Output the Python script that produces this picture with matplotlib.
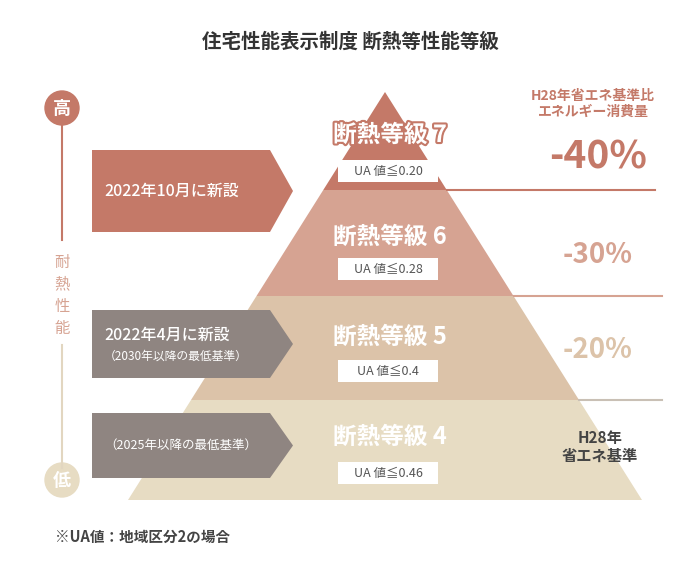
import matplotlib
matplotlib.use("Agg")
import matplotlib.pyplot as plt
from matplotlib.patches import Polygon, Circle, Rectangle
import matplotlib.patheffects as pe

plt.rcParams['font.family'] = ['Noto Sans CJK JP', 'DejaVu Sans']

title = "住宅性能表示制度 断熱等性能等級"
grades = ["断熱等級 7", "断熱等級 6", "断熱等級 5", "断熱等級 4"]
ua_values = ["UA 値≦0.20", "UA 値≦0.28", "UA 値≦0.4", "UA 値≦0.46"]
reductions = ["-40%", "-30%", "-20%", ""]
arrow_labels = [("2022年10月に新設", ""), ("2022年4月に新設", "（2030年以降の最低基準）"), ("", "（2025年以降の最低基準）")]

band_colors = ["#c47968", "#d6a392", "#dcc3a9", "#e7dcc3"]
band_edges = [92, 190, 296, 400, 500]
apex_x, half_base = 385, 257

fig = plt.figure(figsize=(7, 5.75), dpi=100)
ax = fig.add_axes([0, 0, 1, 1])
ax.set_xlim(0, 700); ax.set_ylim(575, 0); ax.axis('off')

ax.text(350, 42, title, ha='center', va='center', fontsize=14, fontweight='bold', color='#333333')

def hw(y):
    return (y - band_edges[0]) / (band_edges[-1] - band_edges[0]) * half_base

grade_y = [135, 237, 337, 437]
box_y = [160, 258, 360, 462]
for i in range(4):
    y0, y1 = band_edges[i], band_edges[i + 1]
    pts = [(apex_x - hw(y0), y0), (apex_x + hw(y0), y0), (apex_x + hw(y1), y1), (apex_x - hw(y1), y1)]
    ax.add_patch(Polygon(pts, closed=True, color=band_colors[i], lw=0))
    t = ax.text(390, grade_y[i], grades[i], ha='center', va='center', fontsize=17,
                fontweight='bold', color='white')
    if i == 0:
        t.set_path_effects([pe.withStroke(linewidth=3, foreground='#c47968')])
    ax.add_patch(Rectangle((338, box_y[i]), 100, 22, facecolor='white', edgecolor='none'))
    ax.text(388, box_y[i] + 11, ua_values[i], ha='center', va='center', fontsize=9, color='#555555')

line_cols = ["#c47968", "#d6a392", "#c9c0b5"]
line_ends = [655, 662, 662]
for i, y in enumerate(band_edges[1:4]):
    ax.plot([apex_x + hw(y), line_ends[i]], [y, y], color=line_cols[i], lw=1.5)

ax.text(593, 104, "H28年省エネ基準比\nエネルギー消費量", ha='center', va='center', fontsize=10,
        color='#c47968', fontweight='bold', linespacing=1.2)
red_cols = ["#c47968", "#d6a392", "#dcc3a9"]
red_y = [157, 255, 350]
red_fs = [28, 20, 20]
for i in range(3):
    ax.text(598, red_y[i], reductions[i], ha='center', va='center', fontsize=red_fs[i], fontweight='bold', color=red_cols[i])
ax.text(600, 447, "H28年\n省エネ基準", ha='center', va='center', fontsize=11, fontweight='bold', color='#444444', linespacing=1.2)

arrow_cols = ["#c47968", "#8f8581", "#8f8581"]
arrow_y = [(150, 232), (310, 378), (413, 478)]
for i, (ya, yb) in enumerate(arrow_y):
    ym = (ya + yb) / 2
    ax.add_patch(Polygon([(92, ya), (270, ya), (293, ym), (270, yb), (92, yb)], closed=True, color=arrow_cols[i], lw=0))
    t1, t2 = arrow_labels[i]
    if t1 and t2:
        ax.text(104, ym - 9, t1, ha='left', va='center', fontsize=11.5, color='white', fontweight='medium')
        ax.text(104, ym + 12, t2, ha='left', va='center', fontsize=8.5, color='white')
    elif t1:
        ax.text(104, ym, t1, ha='left', va='center', fontsize=11.5, color='white', fontweight='medium')
    else:
        ax.text(104, ym, t2, ha='left', va='center', fontsize=9, color='white')

ax.plot([62, 62], [120, 240], color='#c47968', lw=1.5)
ax.plot([62, 62], [345, 468], color='#e2d6c0', lw=1.5)
ax.add_patch(Circle((62, 108), 17, color='#c47968'))
ax.text(62, 108, "高", ha='center', va='center', fontsize=13, fontweight='bold', color='white')
ax.add_patch(Circle((62, 480), 17, color='#e7dcc3'))
ax.text(62, 480, "低", ha='center', va='center', fontsize=13, fontweight='bold', color='white')
for k, ch in enumerate("耐熱性能"):
    ax.text(62, 262 + k * 22, ch, ha='center', va='center', fontsize=11, color='#d6a392')

ax.text(55, 537, "※UA値：地域区分2の場合", ha='left', va='center', fontsize=10.5, fontweight='bold', color='#444444')

fig.savefig("out.png", dpi=100, facecolor='white')
